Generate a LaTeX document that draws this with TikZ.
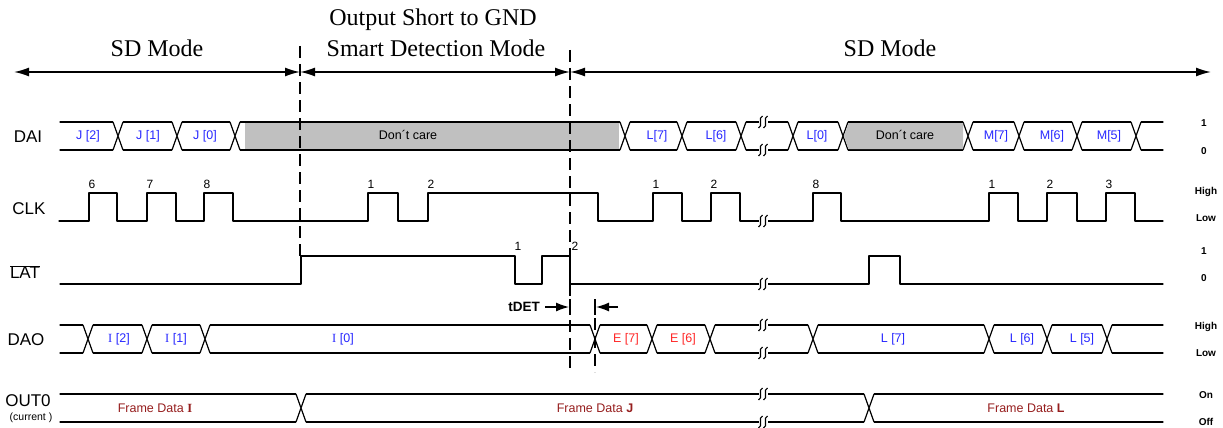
\documentclass[tikz,border=0pt]{standalone}
\usepackage{fontspec}
\setmainfont{Liberation Serif}
\newfontfamily\arial{Liberation Sans}
\usetikzlibrary{arrows.meta}
\definecolor{lblblue}{RGB}{40,40,255}
\definecolor{lblred}{RGB}{255,40,40}
\definecolor{framered}{RGB}{150,30,30}
\definecolor{dcgray}{RGB}{192,192,192}
\tikzset{
  sig/.style={line width=1.2pt, line join=round, line cap=round},
  modetxt/.style={font=\fontsize{24}{28}\selectfont, inner sep=0pt},
  signame/.style={font=\arial\fontsize{17}{19}\selectfont, inner sep=0pt},
  lvl/.style={font=\arial\bfseries\fontsize{10}{12}\selectfont, inner sep=0pt},
  cnum/.style={font=\arial\fontsize{12}{13}\selectfont, inner sep=0pt},
  bl/.style={font=\arial\fontsize{12.5}{14}\selectfont, text=lblblue, inner sep=0pt},
  rl/.style={font=\arial\fontsize{12.5}{14}\selectfont, text=lblred, inner sep=0pt},
  fd/.style={font=\arial\fontsize{12.5}{14}\selectfont, text=framered, inner sep=0pt},
  dc/.style={font=\arial\fontsize{12.5}{14}\selectfont, inner sep=0pt},
  modearrow/.style={line width=1.6pt},
  dashline/.style={line width=2.8pt, dash pattern=on 12pt off 6pt},
  tip/.style={-{Latex[length=13pt,width=9pt]}},
}
\newcommand\xing[3]{%
  \fill[white] (#1-5,#2-0.8) rectangle (#1+5,#3+0.8);
  \draw[sig] (#1-5,#2) -- (#1+5,#3) (#1-5,#3) -- (#1+5,#2);}
\newcommand\brk[2]{%
  \fill[white] (#1-4.5,#2-1.2) rectangle (#1+4.5,#2+1.2);
  \draw[line width=1.1pt] (#1-0.5,#2-6) .. controls (#1-5.5,#2-5) and (#1+0.5,#2+5) .. (#1-4.5,#2+6);
  \draw[line width=1.1pt] (#1+4.5,#2-6) .. controls (#1-0.5,#2-5) and (#1+5.5,#2+5) .. (#1+0.5,#2+6);}
\begin{document}
\begin{tikzpicture}[x=1pt,y=-1pt]
\useasboundingbox (0,0) rectangle (1223,428);

% ---------- mode titles and arrows ----------
\node[modetxt] (sd1) at (157,48) {SD Mode};
\node[modetxt] (osg) at (433,20) {Output Short to GND};
\node[modetxt] (sdm) at (436,48) {Smart Detection Mode};
\node[modetxt] (sd2) at (890,48) {SD Mode};
\coordinate (aL) at (14,72);
\coordinate (d1) at (300,72);
\coordinate (d2) at (570,72);
\coordinate (aR) at (1211,72);
\draw[modearrow,{Latex[length=15pt,width=9pt]}-{Latex[length=15pt,width=9pt]}] (aL) -- (d1);
\draw[modearrow,{Latex[length=15pt,width=9pt]}-{Latex[length=15pt,width=9pt]}] (d1) -- (d2);
\draw[modearrow,{Latex[length=15pt,width=9pt]}-{Latex[length=15pt,width=9pt]}] (d2) -- (aR);

% ---------- signal names ----------
\node[signame] (nDAI) at (28,137) {DAI};
\node[signame] (nCLK) at (29,209) {CLK};
\node[signame] (nLAT) at (25,272) {$\overline{\mbox{\arial LAT}}$};
\node[signame] (nDAO) at (26,340) {DAO};
\node[signame] (nOUT) at (28,401) {OUT0};
\node[font=\arial\fontsize{10.5}{12}\selectfont, inner sep=0pt] (ncur) at (31,418) {(current )};

% ---------- level labels ----------
\node[lvl] (l1) at (1204,123) {1};
\node[lvl] (l2) at (1204,151) {0};
\node[lvl] (l3) at (1206,192) {High};
\node[lvl] (l4) at (1206,218) {Low};
\node[lvl] (l5) at (1204,251) {1};
\node[lvl] (l6) at (1204,278) {0};
\node[lvl] (l7) at (1206,327) {High};
\node[lvl] (l8) at (1206,353) {Low};
\node[lvl] (l9) at (1206,395) {On};
\node[lvl] (l10) at (1206,422) {Off};

% ---------- DAI ----------
\draw[sig] (60,122) -- (1163,122);
\draw[sig] (60,150) -- (1163,150);
\foreach \c in {118,177,235,625,682,741,793,843,968,1019,1077,1136} {\xing{\c}{122}{150}}
\fill[dcgray] (245,123) rectangle (619,149);
\fill[dcgray] (844,136) -- (848.5,123) -- (963,123) -- (963,149) -- (848.5,149) -- cycle;
\brk{763}{122}
\brk{763}{150}
\node[bl] (j2) at (88,136) {J [2]};
\node[bl] (j1) at (148,136) {J [1]};
\node[bl] (j0) at (205,136) {J [0]};
\node[dc] (dc1) at (408,135) {Don´t care};
\node[bl] (l7a) at (657,136) {L[7]};
\node[bl] (l6a) at (716,136) {L[6]};
\node[bl] (l0a) at (817,136) {L[0]};
\node[dc] (dc2) at (905,135) {Don´t care};
\node[bl] (m7) at (996,136) {M[7]};
\node[bl] (m6) at (1052,136) {M[6]};
\node[bl] (m5) at (1109,136) {M[5]};

% ---------- CLK ----------
\draw[sig] (59,221) -- (89,221) -- (89,193) -- (117,193) -- (117,221) -- (147,221) -- (147,193) -- (176,193) -- (176,221) -- (204,221) -- (204,193) -- (233,193) -- (233,221) -- (368,221) -- (368,193) -- (398,193) -- (398,221) -- (428,221) -- (428,193) -- (598,193) -- (598,221) -- (653,221) -- (653,193) -- (682,193) -- (682,221) -- (711,221) -- (711,193) -- (740,193) -- (740,221) -- (813,221) -- (813,193) -- (841,193) -- (841,221) -- (989,221) -- (989,193) -- (1018,193) -- (1018,221) -- (1047,221) -- (1047,193) -- (1077,193) -- (1077,221) -- (1106,221) -- (1106,193) -- (1135,193) -- (1135,221) -- (1163,221);
\brk{763}{221}
\node[cnum] (c6) at (92,184) {6};
\node[cnum] (c7) at (150,184) {7};
\node[cnum] (c8) at (207,184) {8};
\node[cnum] (c1a) at (371,184) {1};
\node[cnum] (c2a) at (431,184) {2};
\node[cnum] (c1b) at (656,184) {1};
\node[cnum] (c2b) at (714,184) {2};
\node[cnum] (c8b) at (816,184) {8};
\node[cnum] (c1c) at (992,184) {1};
\node[cnum] (c2c) at (1050,184) {2};
\node[cnum] (c3c) at (1109,184) {3};

% ---------- LAT ----------
\draw[sig] (60,284) -- (301,284) -- (301,256) -- (515,256) -- (515,284) -- (542,284) -- (542,256) -- (570,256) -- (570,284) -- (869,284) -- (869,256) -- (900,256) -- (900,284) -- (1163,284);
\brk{763}{284}
\node[cnum] (t1) at (518,246) {1};
\node[cnum] (t2) at (575,246) {2};

% ---------- DAO ----------
\draw[sig] (60,325) -- (1163,325);
\draw[sig] (60,353) -- (1163,353);
\foreach \c in {88,147,205,595,652,710,813,989,1047,1107} {\xing{\c}{325}{353}}
\brk{763}{325}
\brk{763}{353}
\node[bl] (i2) at (119,339) {{\rmfamily I} [2]};
\node[bl] (i1) at (176,339) {{\rmfamily I} [1]};
\node[bl] (i0) at (343,339) {{\rmfamily I} [0]};
\node[rl] (e7) at (626,339) {E [7]};
\node[rl] (e6) at (683,339) {E [6]};
\node[bl] (l7b) at (893,339) {L [7]};
\node[bl] (l6b) at (1022,339) {L [6]};
\node[bl] (l5b) at (1082,339) {L [5]};

% ---------- OUT0 ----------
\draw[sig] (60,394) -- (1163,394);
\draw[sig] (60,422) -- (1163,422);
\foreach \c in {301,869} {\xing{\c}{394}{422}}
\brk{763}{394}
\brk{763}{422}
\node[fd] (fdi) at (155,408) {Frame Data {\rmfamily\bfseries I}};
\node[fd] (fdj) at (595,408) {Frame Data {\bfseries J}};
\node[fd] (fdl) at (1026,408) {Frame Data {\bfseries L}};

% ---------- dashed mode boundaries ----------
\draw[dashline] (300,46) -- (300,258);
\draw[dashline] (570,50) -- (570,372);
\draw[dashline] (595,300) -- (595,372);
\draw[line width=2.8pt] (570,299) -- (570,315);
\draw[line width=2.8pt] (595,299) -- (595,315);

% ---------- tDET ----------
\node[font=\arial\bfseries\fontsize{13.5}{15}\selectfont, inner sep=0pt] (tdet) at (524,307) {tDET};
\coordinate (tdA) at (545,307);
\coordinate (tdB) at (569,307);
\coordinate (tdC) at (618,307);
\coordinate (tdD) at (596,307);
\draw[line width=1.3pt, tip] (tdA) -- (tdB);
\draw[line width=1.3pt, tip] (tdC) -- (tdD);
\end{tikzpicture}
\end{document}
